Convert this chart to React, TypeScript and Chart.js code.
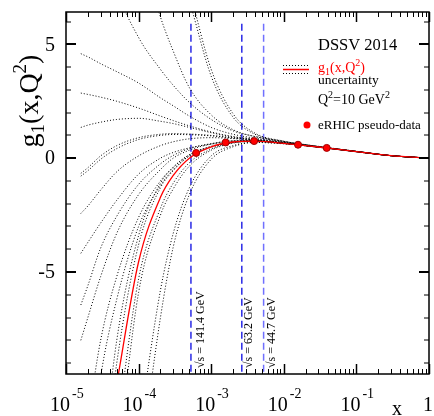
import React, { useEffect, useRef } from 'react';
import { Chart, registerables } from 'chart.js';

Chart.register(...registerables);

const FONT = '"Liberation Serif", "Times New Roman", Times, serif';

// ---- axis ranges ----
const X_MIN = 1e-5;
const X_MAX = 1;
const Y_MIN = -9.48;
const Y_MAX = 6.42;

// ---- tick labels ----
const xTickExponents = [-5, -4, -3, -2, -1];
const yTickLabels = [5, 0, -5];

// ---- common x grid for the curves ----
const gridX = [1.6e-5, 2e-5, 3e-5, 5e-5, 1e-4, 2e-4, 3e-4, 5e-4, 1e-3, 2e-3, 4e-3, 1e-2, 3e-2, 0.1, 0.3, 1];

// central DSSV 2014 g1(x,Q^2)
const g1Central = [null, null, null, -9.9, -4.55, -1.72, -0.76, 0.0, 0.5, 0.71, 0.75, 0.65, 0.49, 0.29, 0.11, 0.0];

// uncertainty replicas (dotted)
const rep01 = [null, null, 10, 7.4, 5.3, 3.9, 3.2, 2.45, 1.7, 1.2, 0.95, 0.72, 0.51, 0.3, 0.11, 0];
const rep02 = [null, null, null, 13, 9.5, 6.2, 4.7, 3.1, 1.9, 1.25, 0.95, 0.73, 0.51, 0.3, 0.11, 0];
const rep03 = [null, null, null, null, null, 12, 9, 6.9, 3.6, 1.8, 1.05, 0.74, 0.51, 0.3, 0.11, 0];
const rep04 = [null, null, null, null, null, null, 10, 7.4, 3.9, 1.95, 1.1, 0.75, 0.52, 0.3, 0.11, 0];
const rep05 = [4.59, 4.45, 4.15, 3.8, 3.3, 2.65, 2.3, 1.85, 1.35, 1.05, 0.88, 0.7, 0.5, 0.29, 0.11, 0];
const rep06 = [2.86, 2.8, 2.68, 2.5, 2.2, 1.85, 1.65, 1.42, 1.15, 0.95, 0.84, 0.69, 0.5, 0.29, 0.11, 0];
const rep07 = [1.35, 1.45, 1.58, 1.7, 1.75, 1.62, 1.52, 1.35, 1.12, 0.93, 0.82, 0.68, 0.5, 0.29, 0.11, 0];
const rep08 = [-0.67, -0.42, 0.1, 0.55, 0.9, 1.05, 1.08, 1.06, 1.0, 0.9, 0.8, 0.67, 0.49, 0.29, 0.11, 0];
const rep09 = [-0.79, -0.55, -0.05, 0.42, 0.82, 1.0, 1.04, 1.03, 0.98, 0.88, 0.79, 0.66, 0.49, 0.29, 0.11, 0];
const rep10 = [-2.43, -2.1, -1.4, -0.6, 0.1, 0.55, 0.72, 0.85, 0.9, 0.86, 0.79, 0.66, 0.49, 0.29, 0.11, 0];
const rep11 = [-4.18, -3.7, -2.85, -1.85, -0.7, 0.0, 0.25, 0.45, 0.62, 0.74, 0.76, 0.65, 0.48, 0.28, 0.11, 0];
const rep12 = [-6.45, -5.6, -3.95, -2.55, -1.15, -0.25, 0.12, 0.42, 0.64, 0.76, 0.77, 0.66, 0.49, 0.29, 0.11, 0];
const rep13 = [-8.0, -7.0, -5.2, -3.3, -1.6, -0.5, 0.0, 0.35, 0.62, 0.76, 0.77, 0.66, 0.49, 0.29, 0.11, 0];
const rep14 = [null, -11.5, -8.0, -5.2, -2.6, -1.0, -0.4, 0.15, 0.5, 0.7, 0.74, 0.65, 0.49, 0.29, 0.11, 0];
const rep15 = [null, -14, -9.6, -6.2, -3.0, -1.2, -0.5, 0.1, 0.48, 0.69, 0.74, 0.65, 0.49, 0.29, 0.11, 0];
const rep16 = [null, null, -14, -8.0, -3.4, -1.1, -0.4, 0.15, 0.52, 0.71, 0.75, 0.65, 0.49, 0.29, 0.11, 0];
const rep17 = [null, null, -15, -9.0, -3.8, -1.3, -0.55, 0.1, 0.5, 0.7, 0.75, 0.65, 0.49, 0.29, 0.11, 0];
const rep18 = [null, null, null, -12, -5.3, -2.2, -1.1, -0.2, 0.4, 0.68, 0.74, 0.65, 0.49, 0.29, 0.11, 0];
const rep19 = [null, null, null, -13.5, -5.9, -2.5, -1.35, -0.35, 0.35, 0.66, 0.73, 0.64, 0.48, 0.29, 0.11, 0];
const rep20 = [null, null, null, null, -12, -5.8, -3.3, -1.3, 0.1, 0.55, 0.7, 0.64, 0.48, 0.28, 0.11, 0];
const rep21 = [null, null, null, null, -14, -7.0, -3.9, -1.6, -0.05, 0.5, 0.69, 0.63, 0.48, 0.28, 0.11, 0];

const replicas = [rep01, rep02, rep03, rep04, rep05, rep06, rep07, rep08, rep09, rep10, rep11,
  rep12, rep13, rep14, rep15, rep16, rep17, rep18, rep19, rep20, rep21];

// eRHIC pseudo-data
const erhicX = [6.2e-4, 1.58e-3, 3.9e-3, 0.0157, 0.039];
const erhicY = [0.23, 0.69, 0.75, 0.59, 0.45];

// kinematic limits (vertical dashed lines)
const sqrtS = ['141.4', '63.2', '44.7'];
const xLimit = [5.26e-4, 2.64e-3, 5.27e-3];
const limitColors = ['#2a2ae6', '#2a2ae6', '#7070ff'];
const limitTop = 5.9;

const toPoints = (ys: (number | null)[]) =>
  gridX.map((x, i) => ({ x, y: ys[i] })).filter((p) => p.y !== null) as { x: number; y: number }[];

type Part = { t: string; size: number; dy?: number; color?: string };

function partsWidth(ctx: CanvasRenderingContext2D, parts: Part[]) {
  let w = 0;
  for (const p of parts) {
    ctx.font = `${p.size}px ${FONT}`;
    w += ctx.measureText(p.t).width;
  }
  return w;
}

function drawParts(ctx: CanvasRenderingContext2D, parts: Part[], x: number, y: number) {
  let cx = x;
  for (const p of parts) {
    ctx.font = `${p.size}px ${FONT}`;
    ctx.fillStyle = p.color || '#000';
    ctx.fillText(p.t, cx, y + (p.dy || 0));
    cx += ctx.measureText(p.t).width;
  }
}

const decorPlugin = {
  id: 'decor',
  afterDatasetsDraw(chart: any) {
    const { ctx, chartArea: a, scales } = chart;
    const xs = scales.x;
    const ys = scales.y;
    ctx.save();
    ctx.textAlign = 'left';
    ctx.textBaseline = 'alphabetic';
    ctx.strokeStyle = '#000';

    const seg = (x1: number, y1: number, x2: number, y2: number) => {
      ctx.beginPath();
      ctx.moveTo(x1, y1);
      ctx.lineTo(x2, y2);
      ctx.stroke();
    };

    // y ticks (both sides, inside)
    for (let v = Math.ceil(Y_MIN); v <= Math.floor(Y_MAX); v++) {
      const py = Math.round(ys.getPixelForValue(v));
      const major = v % 5 === 0;
      ctx.lineWidth = major ? 2 : 1;
      const len = major ? 10 : 5;
      seg(a.left, py, a.left + len, py);
      seg(a.right, py, a.right - len, py);
    }
    // x ticks (top and bottom, inside)
    for (let e = -5; e <= 0; e++) {
      for (let m = 1; m <= 9; m++) {
        const v = m * Math.pow(10, e);
        if (v > X_MAX * 1.0001) break;
        const px = Math.round(xs.getPixelForValue(v)) + 0.5;
        const major = m === 1;
        ctx.lineWidth = major ? 1.5 : 1;
        const len = major ? 10 : 5;
        seg(px, a.bottom, px, a.bottom - len);
        seg(px, a.top, px, a.top + len);
      }
    }
    // frame
    ctx.lineWidth = 1.5;
    ctx.strokeRect(a.left, a.top, a.right - a.left, a.bottom - a.top);

    // y tick labels
    ctx.fillStyle = '#000';
    ctx.font = `20px ${FONT}`;
    ctx.textAlign = 'right';
    ctx.textBaseline = 'middle';
    for (const v of yTickLabels) {
      ctx.fillText(String(v), 55, ys.getPixelForValue(v) + 1);
    }
    ctx.textAlign = 'left';
    ctx.textBaseline = 'alphabetic';

    // x tick labels 10^e
    for (const e of xTickExponents) {
      const px = xs.getPixelForValue(Math.pow(10, e));
      ctx.font = `20px ${FONT}`;
      ctx.fillText('10', px - 16, 411);
      const w = ctx.measureText('10').width;
      ctx.font = `14px ${FONT}`;
      ctx.fillText(String(e), px - 16 + w + 2, 398);
    }
    ctx.font = `20px ${FONT}`;
    ctx.textAlign = 'center';
    ctx.fillText('1', xs.getPixelForValue(1) - 1, 411);
    ctx.fillText('x', 397, 415);
    ctx.textAlign = 'left';

    // y title g1(x,Q^2)
    const title: Part[] = [
      { t: 'g', size: 28 },
      { t: '1', size: 19, dy: 6 },
      { t: '(x,Q', size: 28 },
      { t: '2', size: 19, dy: -12 },
      { t: ')', size: 28 },
    ];
    ctx.save();
    ctx.translate(38, 101);
    ctx.rotate(-Math.PI / 2);
    drawParts(ctx, title, -partsWidth(ctx, title) / 2, 0);
    ctx.restore();

    // vertical line labels
    const labelOffsets = [13.5, 10.5, 11.5];
    ctx.font = `12px ${FONT}`;
    xLimit.forEach((xv, i) => {
      const px = xs.getPixelForValue(xv);
      ctx.save();
      ctx.translate(px + labelOffsets[i], 368);
      ctx.rotate(-Math.PI / 2);
      ctx.fillStyle = '#000';
      ctx.fillText(`\u221As = ${sqrtS[i]} GeV`, 0, 0);
      ctx.restore();
    });

    // legend
    drawParts(ctx, [{ t: 'DSSV 2014', size: 16.5 }], 318, 50);
    ctx.lineWidth = 1;
    ctx.setLineDash([1, 2]);
    seg(283, 65.5, 309, 65.5);
    seg(283, 73.5, 309, 73.5);
    ctx.setLineDash([]);
    ctx.strokeStyle = '#ff0000';
    ctx.lineWidth = 1.5;
    seg(283, 69.5, 309, 69.5);
    drawParts(ctx, [
      { t: 'g', size: 14, color: '#ff0000' },
      { t: '1', size: 10, dy: 3, color: '#ff0000' },
      { t: '(x,Q', size: 14, color: '#ff0000' },
      { t: '2', size: 10, dy: -6, color: '#ff0000' },
      { t: ')', size: 14, color: '#ff0000' },
    ], 318, 72);
    drawParts(ctx, [{ t: 'uncertainty', size: 13.5 }], 318, 84);
    drawParts(ctx, [
      { t: 'Q', size: 14 },
      { t: '2', size: 10, dy: -6 },
      { t: '=10 GeV', size: 14 },
      { t: '2', size: 10, dy: -6 },
    ], 318, 104);
    ctx.fillStyle = '#ff0000';
    ctx.beginPath();
    ctx.arc(307, 125, 3.5, 0, Math.PI * 2);
    ctx.fill();
    drawParts(ctx, [{ t: 'eRHIC pseudo-data', size: 13 }], 318, 129);

    ctx.restore();
  },
};

export default function App() {
  const ref = useRef<HTMLCanvasElement | null>(null);

  useEffect(() => {
    if (!ref.current) return;
    const datasets: any[] = [];
    datasets.push({
      label: 'eRHIC pseudo-data',
      data: erhicX.map((x, i) => ({ x, y: erhicY[i] })),
      showLine: false,
      pointRadius: 3.5,
      pointBackgroundColor: '#ff0000',
      pointBorderColor: '#a00000',
      pointBorderWidth: 1,
      order: 0,
    });
    datasets.push({
      label: 'g1',
      data: toPoints(g1Central),
      borderColor: '#ff0000',
      borderWidth: 1.3,
      pointRadius: 0,
      cubicInterpolationMode: 'monotone',
      order: 1,
    });
    replicas.forEach((r, i) => {
      datasets.push({
        label: `rep${i + 1}`,
        data: toPoints(r),
        borderColor: '#000',
        borderWidth: 1,
        borderDash: [1, 2],
        pointRadius: 0,
        cubicInterpolationMode: 'monotone',
        order: 2,
      });
    });
    xLimit.forEach((xv, i) => {
      datasets.push({
        label: `limit${i}`,
        data: [{ x: xv, y: limitTop }, { x: xv, y: Y_MIN }],
        borderColor: limitColors[i],
        borderWidth: 1.5,
        borderDash: [7, 4],
        pointRadius: 0,
        order: 3,
      });
    });

    const chart = new Chart(ref.current, {
      type: 'line',
      data: { datasets },
      options: {
        animation: false,
        responsive: false,
        events: [],
        layout: { padding: { left: 66, right: 5, top: 12, bottom: 42 } },
        scales: {
          x: { type: 'logarithmic', min: X_MIN, max: X_MAX, display: false },
          y: { type: 'linear', min: Y_MIN, max: Y_MAX, display: false },
        },
        plugins: { legend: { display: false }, tooltip: { enabled: false } },
      },
      plugins: [decorPlugin],
    } as any);
    return () => chart.destroy();
  }, []);

  return (
    <canvas
      ref={ref}
      width={434}
      height={416}
      style={{ position: 'fixed', left: 0, top: 0, width: 434, height: 416, background: '#fff' }}
    />
  );
}
